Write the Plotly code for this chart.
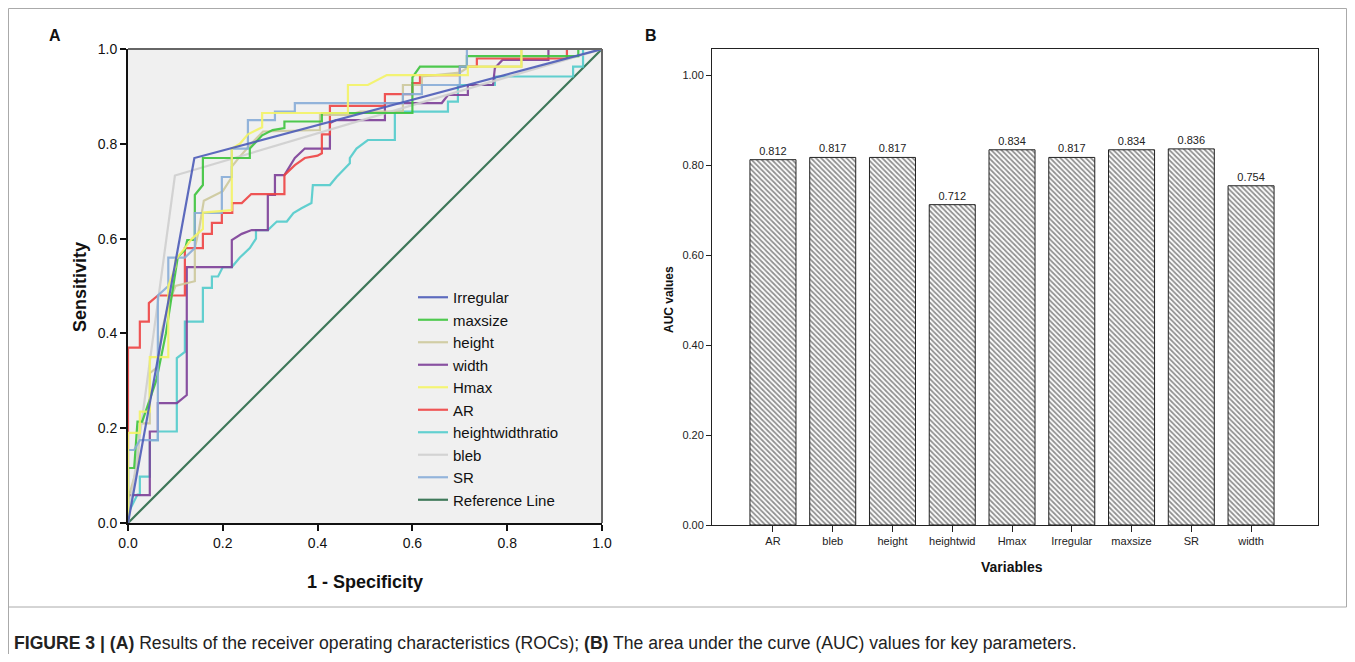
import plotly.graph_objects as go

# page body has an 8px margin: the figure is drawn at (8, 8) of the window
OFF = 8
W, H = 1355 - 2 * OFF, 662 - 2 * OFF

# ---------------- Panel A data (ROC curves: 1-specificity, sensitivity) ----------------
roc_names = ["Irregular", "maxsize", "height", "width", "Hmax", "AR",
             "heightwidthratio", "bleb", "SR", "Reference Line"]
roc_colors = ["#4d5cb8", "#3dc43d", "#cdc99c", "#7d3f98", "#f4f466", "#ee4444",
              "#52cccc", "#cfcfcf", "#88add8", "#2b6b49"]

irregular_x = [0, 0.14, 1]
irregular_y = [0, 0.77, 1]

maxsize_x = [0, 0, 0.013, 0.02, 0.03, 0.06, 0.08, 0.105, 0.12, 0.125, 0.141, 0.141, 0.158, 0.158,
             0.257, 0.257, 0.283, 0.305, 0.33, 0.33, 0.409, 0.409, 0.60, 0.60, 0.616, 0.715, 0.715,
             0.95, 0.95, 1]
maxsize_y = [0, 0.116, 0.116, 0.214, 0.214, 0.302, 0.40, 0.561, 0.576, 0.597, 0.597, 0.692, 0.713,
             0.77, 0.77, 0.79, 0.818, 0.829, 0.833, 0.847, 0.847, 0.865, 0.865, 0.94, 0.963, 0.963,
             0.985, 0.985, 1, 1]

height_x = [0, 0, 0.02, 0.025, 0.046, 0.046, 0.063, 0.07, 0.085, 0.10, 0.141, 0.141, 0.15, 0.16,
            0.20, 0.219, 0.219, 0.236, 0.26, 0.285, 0.405, 0.405, 0.468, 0.49, 0.58, 0.58, 0.62,
            0.62, 0.70, 0.72, 0.83, 0.83, 1]
height_y = [0, 0.05, 0.12, 0.21, 0.21, 0.316, 0.33, 0.40, 0.46, 0.50, 0.51, 0.58, 0.62, 0.68,
            0.70, 0.73, 0.752, 0.773, 0.80, 0.826, 0.829, 0.861, 0.861, 0.868, 0.868, 0.924, 0.924,
            0.942, 0.95, 0.963, 0.963, 1, 1]

width_x = [0, 0, 0.046, 0.046, 0.063, 0.063, 0.103, 0.124, 0.124, 0.219, 0.219, 0.24, 0.261, 0.295,
           0.295, 0.31, 0.31, 0.33, 0.352, 0.373, 0.426, 0.426, 0.44, 0.542, 0.542, 0.662, 0.675,
           0.717, 0.717, 0.77, 0.774, 0.79, 0.887, 0.887, 1]
width_y = [0, 0.059, 0.059, 0.193, 0.193, 0.253, 0.253, 0.27, 0.54, 0.54, 0.597, 0.61, 0.618, 0.618,
           0.692, 0.692, 0.734, 0.734, 0.77, 0.79, 0.79, 0.844, 0.85, 0.85, 0.886, 0.886, 0.903,
           0.903, 0.924, 0.924, 0.96, 0.977, 0.977, 1, 1]

hmax_x = [0, 0, 0.025, 0.025, 0.046, 0.046, 0.085, 0.085, 0.10, 0.10, 0.12, 0.135, 0.158, 0.158,
          0.219, 0.219, 0.236, 0.253, 0.283, 0.283, 0.464, 0.464, 0.506, 0.546, 0.717, 0.717, 0.83,
          0.83, 1]
hmax_y = [0, 0.19, 0.19, 0.235, 0.235, 0.35, 0.35, 0.50, 0.54, 0.555, 0.58, 0.60, 0.62, 0.655,
          0.66, 0.79, 0.80, 0.82, 0.835, 0.865, 0.865, 0.924, 0.924, 0.945, 0.945, 0.963, 0.963,
          1, 1]

ar_x = [0, 0, 0.025, 0.025, 0.044, 0.044, 0.063, 0.12, 0.12, 0.158, 0.158, 0.177, 0.177, 0.198,
        0.198, 0.22, 0.22, 0.24, 0.26, 0.33, 0.33, 0.352, 0.373, 0.40, 0.409, 0.409, 0.426, 0.426,
        0.542, 0.542, 0.60, 0.60, 0.616, 0.616, 0.70, 0.70, 0.736, 0.736, 0.926, 0.926, 1]
ar_y = [0, 0.37, 0.37, 0.425, 0.425, 0.464, 0.48, 0.48, 0.58, 0.58, 0.61, 0.61, 0.633, 0.633,
        0.654, 0.654, 0.675, 0.675, 0.694, 0.694, 0.734, 0.755, 0.77, 0.775, 0.78, 0.82, 0.82, 0.88,
        0.88, 0.905, 0.905, 0.928, 0.928, 0.945, 0.945, 0.963, 0.963, 0.98, 0.98, 1, 1]

hwr_x = [0, 0, 0.02, 0.025, 0.025, 0.046, 0.046, 0.063, 0.063, 0.103, 0.103, 0.12, 0.12, 0.158,
         0.158, 0.177, 0.177, 0.19, 0.20, 0.219, 0.236, 0.257, 0.27, 0.27, 0.295, 0.314, 0.335,
         0.349, 0.366, 0.387, 0.39, 0.426, 0.44, 0.468, 0.468, 0.482, 0.506, 0.563, 0.563, 0.675,
         0.675, 0.696, 0.696, 0.774, 0.774, 0.939, 0.939, 0.96, 0.96, 1]
hwr_y = [0, 0.02, 0.06, 0.06, 0.098, 0.098, 0.175, 0.175, 0.193, 0.193, 0.348, 0.361, 0.425, 0.425,
         0.496, 0.496, 0.52, 0.52, 0.54, 0.54, 0.56, 0.58, 0.60, 0.618, 0.618, 0.636, 0.636, 0.654,
         0.664, 0.675, 0.713, 0.713, 0.73, 0.759, 0.77, 0.79, 0.808, 0.808, 0.868, 0.868, 0.889,
         0.889, 0.924, 0.924, 0.942, 0.942, 0.963, 0.963, 1, 1]

bleb_x = [0, 0.099, 1]
bleb_y = [0, 0.733, 1]

sr_x = [0, 0, 0.013, 0.025, 0.063, 0.063, 0.085, 0.085, 0.12, 0.141, 0.141, 0.198, 0.198, 0.219,
        0.219, 0.253, 0.253, 0.31, 0.31, 0.352, 0.352, 0.58, 0.58, 0.62, 0.62, 0.70, 0.70, 0.715,
        0.715, 1]
sr_y = [0, 0.154, 0.154, 0.175, 0.175, 0.48, 0.50, 0.56, 0.56, 0.58, 0.654, 0.654, 0.73, 0.73,
        0.79, 0.79, 0.85, 0.85, 0.868, 0.868, 0.886, 0.886, 0.905, 0.905, 0.924, 0.924, 0.963, 0.963,
        1, 1]

ref_x = [0, 1]
ref_y = [0, 1]

roc_xs = [irregular_x, maxsize_x, height_x, width_x, hmax_x, ar_x, hwr_x, bleb_x, sr_x, ref_x]
roc_ys = [irregular_y, maxsize_y, height_y, width_y, hmax_y, ar_y, hwr_y, bleb_y, sr_y, ref_y]

roc_ticks = [0.0, 0.2, 0.4, 0.6, 0.8, 1.0]

# ---------------- Panel B data ----------------
auc_vars = ["AR", "bleb", "height", "heightwid", "Hmax", "Irregular", "maxsize", "SR", "width"]
auc_vals = [0.812, 0.817, 0.817, 0.712, 0.834, 0.817, 0.834, 0.836, 0.754]
auc_ticks = [0.0, 0.2, 0.4, 0.6, 0.8, 1.0]

FONT = "Liberation Sans, Arial, sans-serif"

fig = go.Figure()

# draw order: reference line first (underneath), then the curves
order = [9, 6, 3, 5, 2, 7, 1, 8, 4, 0]
for i in order:
    fig.add_trace(go.Scatter(
        x=roc_xs[i], y=roc_ys[i], mode="lines", name=roc_names[i],
        line=dict(color=roc_colors[i], width=2.2), opacity=0.9,
        legendrank=i + 1, xaxis="x", yaxis="y", showlegend=True))

fig.add_trace(go.Bar(
    x=auc_vars, y=auc_vals, xaxis="x2", yaxis="y2", width=0.77, showlegend=False,
    marker=dict(color="white", line=dict(color="#222", width=1),
                pattern=dict(shape="\\", fgcolor="#222", bgcolor="white", size=3.6, solidity=0.5)),
    text=[f"{v:.3f}" for v in auc_vals], textposition="outside",
    textfont=dict(size=11, color="#222", family=FONT), cliponaxis=False))

# convert window pixel positions to paper fractions
def px_x(p):
    return (p - OFF) / W

def px_y(p):
    return 1 - (p - OFF) / H

fig.update_layout(
    width=W, height=H, margin=dict(l=0, r=0, t=0, b=0, pad=0, autoexpand=False),
    paper_bgcolor="white", plot_bgcolor="#f0f0f0",
    font=dict(family=FONT, color="#111"),
    xaxis=dict(domain=[px_x(128), px_x(602)], range=[0, 1], tickvals=roc_ticks,
               tickformat=".1f", ticks="outside", ticklen=6, tickwidth=2, tickcolor="#111",
               showline=True, linecolor="#111", linewidth=2, showgrid=False, zeroline=False,
               tickfont=dict(size=14, color="#111"), anchor="y", automargin=False),
    yaxis=dict(domain=[px_y(523), px_y(49)], range=[0, 1], tickvals=roc_ticks,
               tickformat=".1f", ticks="outside", ticklen=6, tickwidth=2, tickcolor="#111",
               showline=True, linecolor="#111", linewidth=2, showgrid=False, zeroline=False,
               tickfont=dict(size=14, color="#111"), anchor="x", automargin=False),
    xaxis2=dict(domain=[px_x(712), px_x(1318)], range=[-1.02, 9.12], type="category",
                ticks="outside", ticklen=6, tickwidth=1, tickcolor="#222",
                showline=True, linecolor="#222", linewidth=1, mirror=True, showgrid=False,
                tickfont=dict(size=11, color="#222"), anchor="y2", automargin=False),
    yaxis2=dict(domain=[px_y(525), px_y(49)], range=[0, 1.058], tickvals=auc_ticks,
                tickformat=".2f", ticks="outside", ticklen=5, tickwidth=1, tickcolor="#222",
                showline=True, linecolor="#222", linewidth=1, mirror=True, showgrid=False,
                zeroline=False, tickfont=dict(size=11, color="#222"), anchor="x2",
                automargin=False),
    bargap=0.23,
    legend=dict(x=px_x(413), y=px_y(281), xanchor="left", yanchor="top",
                bgcolor="rgba(0,0,0,0)", font=dict(size=15, color="#111"),
                itemwidth=30, tracegroupgap=0, traceorder="normal"),
)

# white background for panel B
fig.add_shape(type="rect", xref="x2 domain", yref="y2 domain", x0=0, x1=1, y0=0, y1=1,
              fillcolor="white", line=dict(width=0), layer="below")

# frame lines of panel A (top and right, gray)
fig.add_shape(type="line", xref="paper", yref="paper", x0=px_x(128), x1=px_x(602),
              y0=px_y(49), y1=px_y(49), line=dict(color="#666", width=2))
fig.add_shape(type="line", xref="paper", yref="paper", x0=px_x(602), x1=px_x(602),
              y0=px_y(49), y1=px_y(523), line=dict(color="#666", width=2))

# outer figure border
fig.add_shape(type="line", xref="paper", yref="paper", x0=px_x(8.5), x1=px_x(8.5),
              y0=0, y1=px_y(8.5), line=dict(color="#aaa", width=1))
fig.add_shape(type="line", xref="paper", yref="paper", x0=px_x(8.5), x1=px_x(1346.5),
              y0=px_y(8.5), y1=px_y(8.5), line=dict(color="#aaa", width=1))
fig.add_shape(type="line", xref="paper", yref="paper", x0=px_x(1346.5), x1=px_x(1346.5),
              y0=px_y(8.5), y1=px_y(607), line=dict(color="#aaa", width=1))
fig.add_shape(type="line", xref="paper", yref="paper", x0=px_x(8.5), x1=px_x(1346.5),
              y0=px_y(607), y1=px_y(607), line=dict(color="#aaa", width=1))

ann = [
    dict(text="<b>A</b>", x=px_x(55), y=px_y(35), size=16),
    dict(text="<b>B</b>", x=px_x(651), y=px_y(35), size=16),
    dict(text="<b>1 - Specificity</b>", x=px_x(365), y=px_y(582), size=18),
    dict(text="<b>Variables</b>", x=px_x(1012), y=px_y(567), size=14),
]
for a in ann:
    fig.add_annotation(text=a["text"], x=a["x"], y=a["y"], xref="paper", yref="paper",
                       showarrow=False, xanchor="center", yanchor="middle",
                       font=dict(size=a["size"], color="#111", family=FONT))
fig.add_annotation(text="<b>Sensitivity</b>", x=px_x(80), y=px_y(287), xref="paper", yref="paper",
                   showarrow=False, textangle=-90, xanchor="center", yanchor="middle",
                   font=dict(size=18, color="#111", family=FONT))
fig.add_annotation(text="<b>AUC values</b>", x=px_x(669), y=px_y(300), xref="paper", yref="paper",
                   showarrow=False, textangle=-90, xanchor="center", yanchor="middle",
                   font=dict(size=12, color="#111", family=FONT))
fig.add_annotation(
    text="<b>FIGURE 3 | (A)</b> Results of the receiver operating characteristics (ROCs); "
         "<b>(B)</b> The area under the curve (AUC) values for key parameters.",
    x=px_x(12), y=px_y(643), xref="paper", yref="paper", showarrow=False,
    xanchor="left", yanchor="middle", font=dict(size=17.6, color="#222", family=FONT))

fig.write_html("out.html")
